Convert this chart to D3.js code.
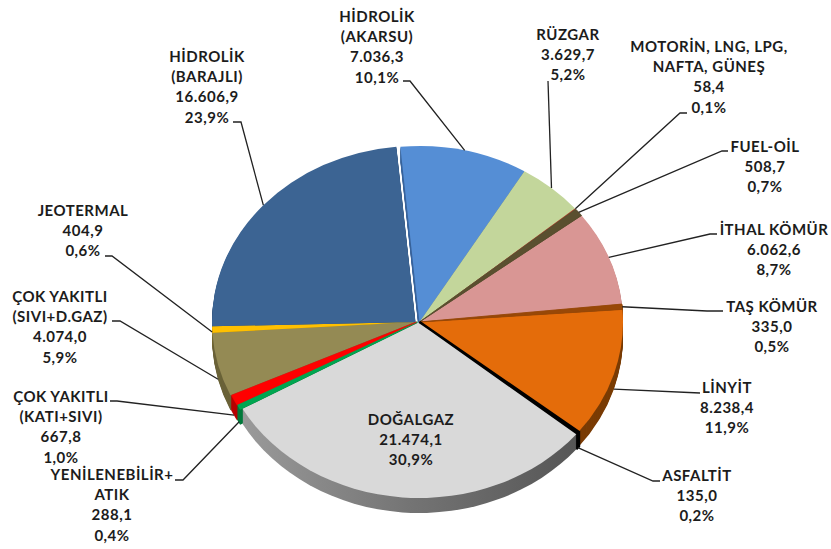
<!DOCTYPE html>
<html>
<head>
<meta charset="utf-8">
<script src="https://cdn.jsdelivr.net/npm/d3@7/dist/d3.min.js"></script>
<style>
	html,body {margin:0;padding:0;background:#fff;}
	svg {display:block;}
	text {font-family:Lato,"Open Sans",sans-serif;font-weight:700;font-size:15px;letter-spacing:0.5px;fill:#1c1c1c;}
</style>
</head>
<body>
<svg id="svgelement" width="831" height="549"></svg>
<script>
	var width = 831;
	var height = 549;

	// clockwise from the top
	var names = ["HİDROLİK (AKARSU)","RÜZGAR","MOTORİN, LNG, LPG, NAFTA, GÜNEŞ","FUEL-OİL","İTHAL KÖMÜR","TAŞ KÖMÜR","LİNYİT","ASFALTİT","DOĞALGAZ","YENİLENEBİLİR+ ATIK","ÇOK YAKITLI (KATI+SIVI)","ÇOK YAKITLI (SIVI+D.GAZ)","JEOTERMAL","HİDROLİK (BARAJLI)"];
	var values = [7036.3,3629.7,58.4,508.7,6062.6,335.0,8238.4,135.0,21474.1,288.1,667.8,4074.0,404.9,16606.9];
	var valueLabels = ["7.036,3","3.629,7","58,4","508,7","6.062,6","335,0","8.238,4","135,0","21.474,1","288,1","667,8","4.074,0","404,9","16.606,9"];
	var percentLabels = ["10,1%","5,2%","0,1%","0,7%","8,7%","0,5%","11,9%","0,2%","30,9%","0,4%","1,0%","5,9%","0,6%","23,9%"];
	var topColors = ["#558ed5","#c3d69b","#c0392b","#5a4f2f","#d99694","#984807","#e46c0a","#000000","#d9d9d9","#00a651","#ff0000","#948a54","#ffc000","#3c6493"];
	var sideColors = ["#3a659c","#8f9f6c","#8c2a20","#3c3520","#a66f6d","#6f3405","#7a3c05","#000000","url(#greyWall)","#00793a","#b80000","#6b6339","#b88b00","#2c4a6e"];

	// name lines, first baseline and centre of each label
	var labelLines = [
		["HİDROLİK","(AKARSU)"],["RÜZGAR"],["MOTORİN, LNG, LPG,","NAFTA, GÜNEŞ"],["FUEL-OİL"],["İTHAL KÖMÜR"],["TAŞ KÖMÜR"],["LİNYİT"],["ASFALTİT"],["DOĞALGAZ"],["YENİLENEBİLİR+","ATIK"],["ÇOK YAKITLI","(KATI+SIVI)"],["ÇOK YAKITLI","(SIVI+D.GAZ)"],["JEOTERMAL"],["HİDROLİK","(BARAJLI)"]
	];
	var labelX = [377,568,709,765,774,772,727,697,411,112,61,60,83,207];
	var labelY = [22,40,52,152,235,312,393,481,425,480,402,302,216,62];

	// leaders: outer end next to the label, then the elbow
	var leaderX = [403,548,687,728,717,723,700,660,null,175,110,112,105,233];
	var leaderY = [81,81,113,151,234,311,393,481,null,480,401,321,256,122];
	var elbowX = [410,548,680,722,710,707,700,653,null,183,117,120,112,241];

	var cx = 419.5, cy = 322, rx = 203.5, tilt = 0.865, depth = 15;
	var startAngle = -5.4*Math.PI/180;

	// left side of the pie sits a little off the centre
	var shiftX = [0,0,0,0,0,0,0,0,0,-2,-3,-4,-4,-4];
	// thin slices are drawn wider than their share in the reference
	var strokeW = [0,0,0,1,0,1,0,2.6,0,1.6,0.6,0,0,0];

	var svg = d3.select("#svgelement");

	var grad = svg.append("defs").append("linearGradient").attr("id","greyWall");
	grad.append("stop").attr("offset","0%").attr("stop-color","#9a9a9a");
	grad.append("stop").attr("offset","50%").attr("stop-color","#747474");
	grad.append("stop").attr("offset","100%").attr("stop-color","#565656");

	var pie = d3.pie().sort(null).startAngle(startAngle).endAngle(startAngle+2*Math.PI);
	var slices = pie(values);
	var arc = d3.arc().innerRadius(0).outerRadius(rx);

	function drawLayer(y,colors) {
		var g = svg.append("g")
			.attr("transform","translate("+cx+","+y+") scale(1,"+tilt+")");
		g.selectAll("path")
			.data(slices)
			.enter()
			.append("path")
			.attr("d",arc)
			.attr("transform",function(d,i){return "translate("+shiftX[i]+",0)";})
			.attr("fill",function(d,i){return colors[i];})
			.attr("stroke",function(d,i){return strokeW[i]>0?colors[i]:"none";})
			.attr("stroke-width",function(d,i){return strokeW[i];});
		g.selectAll("path").filter(function(d,i){return strokeW[i]>0;}).raise();
	}

	// side wall: the same slices stacked downward
	d3.range(depth,0,-1).forEach(function(o) {
		drawLayer(cy+o,sideColors);
	});
	drawLayer(cy,topColors);

	// leaders run to the rim at the middle of each slice
	var leaderPath = d3.line();
	svg.append("g")
		.selectAll("path")
		.data(slices.filter(function(d){return leaderX[d.index]!==null;}))
		.enter()
		.append("path")
		.attr("d",function(d) {
			var i = d.index;
			var a = (d.startAngle+d.endAngle)/2;
			var c = Math.cos(a);
			var wall = c<0 ? depth*Math.min(1,-c*4) : 0;
			return leaderPath([
				[leaderX[i],leaderY[i]],
				[elbowX[i],leaderY[i]],
				[cx+shiftX[i]+rx*Math.sin(a),cy-rx*tilt*c+wall]
			]);
		})
		.attr("fill","none")
		.attr("stroke","#222")
		.attr("stroke-width",1.3);

	// labels
	var lineHeight = 20.2;
	svg.append("g")
		.selectAll("text")
		.data(slices)
		.enter()
		.append("text")
		.attr("text-anchor","middle")
		.each(function(d) {
			var i = d.index;
			var lines = labelLines[i].concat([valueLabels[i],percentLabels[i]]);
			d3.select(this).selectAll("tspan")
				.data(lines)
				.enter()
				.append("tspan")
				.attr("x",labelX[i])
				.attr("y",function(t,k){return labelY[i]+k*lineHeight;})
				.text(function(t){return t;});
		});
</script>
</body>
</html>
